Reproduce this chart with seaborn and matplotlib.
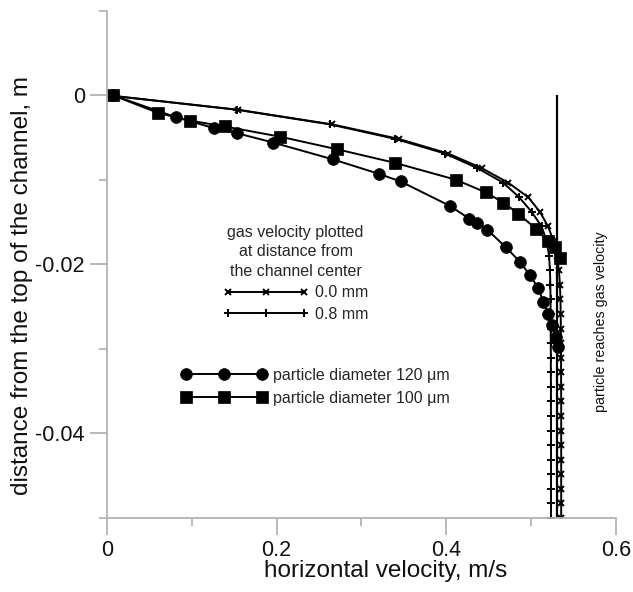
import matplotlib
matplotlib.use("Agg")
import matplotlib.pyplot as plt
import seaborn as sns
from matplotlib.ticker import MultipleLocator, FixedLocator, FixedFormatter

# ---------------- data ----------------
gas_y = [0.0, -0.00172, -0.00345, -0.00517, -0.00690, -0.00862, -0.01034, -0.01207,
         -0.01379, -0.01552, -0.01724, -0.01897, -0.02069, -0.02241, -0.02414, -0.02586,
         -0.02759, -0.02931, -0.03103, -0.03276, -0.03448, -0.03621, -0.03793, -0.03966,
         -0.04138, -0.04310, -0.04483, -0.04655, -0.04828, -0.05000]
gas_x_00mm = [0.0, 0.1548, 0.2656, 0.3442, 0.4024, 0.4417, 0.4730, 0.4967, 0.5104, 0.5200,
              0.5265, 0.5305, 0.5328, 0.5340, 0.5346, 0.5349, 0.5351, 0.5352, 0.5353, 0.5354,
              0.5354, 0.5355, 0.5355, 0.5355, 0.5355, 0.5355, 0.5355, 0.5355, 0.5355, 0.5355]
gas_x_08mm = [0.0, 0.1530, 0.2630, 0.3400, 0.3985, 0.4366, 0.4670, 0.4860, 0.5006, 0.5124,
              0.5183, 0.5212, 0.5222, 0.5227, 0.5229, 0.5230, 0.5231, 0.5232, 0.5233, 0.5233,
              0.5234, 0.5234, 0.5234, 0.5235, 0.5235, 0.5235, 0.5235, 0.5235, 0.5235, 0.5235]

p120_x = [0.0067, 0.0813, 0.1265, 0.1536, 0.1960, 0.2668, 0.3206, 0.3462, 0.4045, 0.4271,
          0.4365, 0.4483, 0.4704, 0.4869, 0.4987, 0.5084, 0.5143, 0.5202, 0.5242, 0.5293, 0.5320]
p120_y = [0.0, -0.0026, -0.0039, -0.0045, -0.0056, -0.0076, -0.0093, -0.0102, -0.0131, -0.0146,
          -0.0151, -0.0159, -0.0180, -0.0197, -0.0213, -0.0228, -0.0244, -0.0259, -0.0272, -0.0286, -0.0298]

p100_x = [0.0067, 0.0605, 0.0978, 0.1390, 0.2039, 0.2715, 0.3395, 0.4114, 0.4468, 0.4672,
          0.4849, 0.5057, 0.5202, 0.5280, 0.5345]
p100_y = [0.0, -0.0021, -0.0030, -0.0037, -0.0049, -0.0064, -0.0080, -0.0100, -0.0115, -0.0127,
          -0.0140, -0.0158, -0.0173, -0.0180, -0.0193]

vline_x = 0.530
vline_top = 0.0
vline_bottom = -0.05

x_ticks = [0.0, 0.2, 0.4, 0.6]
x_tick_labels = ["0", "0.2", "0.4", "0.6"]
y_ticks = [-0.04, -0.02, 0.0]
y_tick_labels = ["-0.04", "-0.02", "0"]

gas_labels = ["0.0 mm", "0.8 mm"]
gas_title = "gas velocity plotted\nat distance from\nthe channel center"
particle_labels = ["particle diameter 120 \u03bcm", "particle diameter 100 \u03bcm"]
note_text = "particle reaches gas velocity"
x_label = "horizontal velocity, m/s"
y_label = "distance from the top of the channel, m"

# ---------------- style ----------------
sns.set_theme(style="ticks")
plt.rcParams["font.family"] = ["Liberation Sans", "DejaVu Sans"]
plt.rcParams["axes.unicode_minus"] = False

fig = plt.figure(figsize=(6.33, 5.92), dpi=100)
ax = fig.add_axes([0.169, 0.125, 0.804, 0.857])

line_kw = dict(color="black", sort=False, estimator=None, ax=ax, linewidth=1.4)

sns.lineplot(x=gas_x_00mm, y=gas_y, marker="x", markersize=4.5,
             markeredgecolor="black", markeredgewidth=1.4, **line_kw)
h_gas0 = ax.lines[-1]
sns.lineplot(x=gas_x_08mm, y=gas_y, marker="+", markersize=6,
             markeredgecolor="black", markeredgewidth=1.4, **line_kw)
h_gas8 = ax.lines[-1]
sns.lineplot(x=p120_x, y=p120_y, marker="o", markersize=8.5,
             markeredgecolor="black", markeredgewidth=0.5, **line_kw)
h_p120 = ax.lines[-1]
sns.lineplot(x=p100_x, y=p100_y, marker="s", markersize=8,
             markeredgecolor="black", markeredgewidth=0.5, **line_kw)
h_p100 = ax.lines[-1]

ax.vlines(vline_x, vline_bottom, vline_top, color="black", linewidth=1.6)
ax.text(0.5825, -0.0268, note_text, rotation=90, ha="center", va="center",
        fontsize=10.3, color="#111111")

ax.set_xlim(0, 0.6)
ax.set_ylim(-0.05, 0.01)
ax.xaxis.set_major_locator(FixedLocator(x_ticks))
ax.xaxis.set_major_formatter(FixedFormatter(x_tick_labels))
ax.yaxis.set_major_locator(FixedLocator(y_ticks))
ax.yaxis.set_major_formatter(FixedFormatter(y_tick_labels))
ax.xaxis.set_minor_locator(MultipleLocator(0.1))
ax.yaxis.set_minor_locator(MultipleLocator(0.01))

for s in ["top", "right"]:
    ax.spines[s].set_visible(False)
for s in ["left", "bottom"]:
    ax.spines[s].set_color("#b3b3b3")
    ax.spines[s].set_linewidth(1.3)
ax.tick_params(which="major", length=12, width=1.3, color="#b3b3b3",
               labelsize=15.5, pad=4, labelcolor="#111111")
ax.tick_params(which="minor", length=6, width=1.3, color="#b3b3b3")

ax.set_xlabel(x_label, fontsize=17.5, color="#111111")
ax.set_ylabel(y_label, fontsize=17.5, color="#111111")
ax.xaxis.set_label_coords(0.548, -0.105)
ax.xaxis.label.set_va("center")
ax.yaxis.set_label_coords(-0.167, 0.459)
ax.yaxis.label.set_va("center")

leg1 = ax.legend(handles=[h_gas0, h_gas8], labels=gas_labels, title=gas_title,
                 frameon=False, numpoints=3, handlelength=5.4, handletextpad=0.35,
                 fontsize=11.5, title_fontsize=11.5, loc="upper left",
                 bbox_to_anchor=(0.228, 0.577), borderaxespad=0, borderpad=0,
                 labelspacing=0.42)
leg1.get_title().set_multialignment("center")
leg1.get_title().set_linespacing(1.35)
ax.add_artist(leg1)
leg2 = ax.legend(handles=[h_p120, h_p100], labels=particle_labels,
                 frameon=False, numpoints=3, handlelength=5.4, handletextpad=0.38,
                 fontsize=11.5, loc="upper left",
                 bbox_to_anchor=(0.1454, 0.2956), borderaxespad=0, borderpad=0,
                 labelspacing=0.47)

fig.savefig("out.png", dpi=100)
